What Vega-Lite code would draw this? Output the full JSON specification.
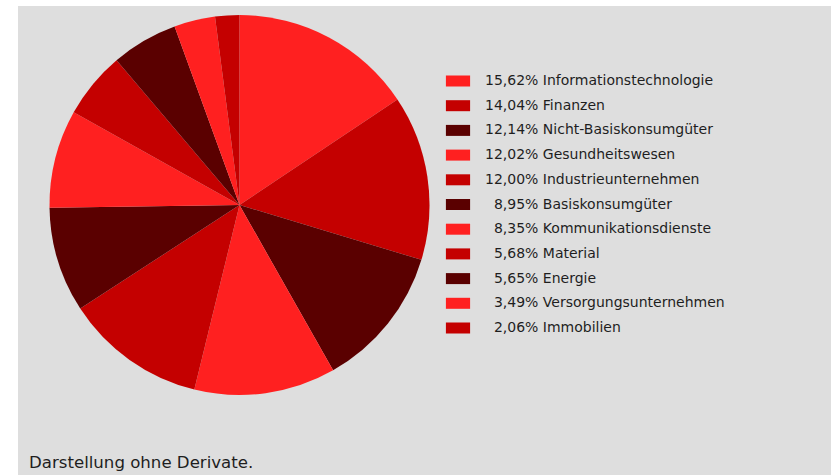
{
  "$schema": "https://vega.github.io/schema/vega-lite/v6.json",
  "background": "#dedede",
  "padding": 0,
  "config": {
    "view": {"stroke": null},
    "font": "DejaVu Sans"
  },
  "spacing": 0,
  "bounds": "flush",
  "resolve": {"scale": {"color": "independent"}, "legend": {"color": "independent"}},
  "hconcat": [
    {
      "width": 18,
      "height": 475,
      "view": {"fill": "white", "stroke": null},
      "data": {"values": []},
      "mark": "point",
      "encoding": {}
    },
    {
      "spacing": 0,
      "bounds": "flush",
      "resolve": {"scale": {"color": "independent"}, "legend": {"color": "independent"}},
      "vconcat": [
        {
          "width": 813,
          "height": 6,
          "view": {"fill": "white", "stroke": null},
          "data": {"values": []},
          "mark": "point",
          "encoding": {}
        },
        {
          "width": 443,
          "height": 398,
          "view": {"fill": null, "stroke": null},
          "title": {
            "text": "Darstellung ohne Derivate.",
            "orient": "bottom",
            "anchor": "start",
            "frame": "group",
            "baseline": "alphabetic",
            "offset": 64,
            "dx": 11,
            "fontSize": 16.6,
            "fontWeight": "normal",
            "font": "DejaVu Sans",
            "color": "#1e1e1e"
          },
          "data": {
            "values": [
              {"sector": "Informationstechnologie", "pct": 15.62, "label": "15,62% Informationstechnologie"},
              {"sector": "Finanzen", "pct": 14.04, "label": "14,04% Finanzen"},
              {"sector": "Nicht-Basiskonsumgüter", "pct": 12.14, "label": "12,14% Nicht-Basiskonsumgüter"},
              {"sector": "Gesundheitswesen", "pct": 12.02, "label": "12,02% Gesundheitswesen"},
              {"sector": "Industrieunternehmen", "pct": 12.00, "label": "12,00% Industrieunternehmen"},
              {"sector": "Basiskonsumgüter", "pct": 8.95, "label": "8,95% Basiskonsumgüter"},
              {"sector": "Kommunikationsdienste", "pct": 8.35, "label": "8,35% Kommunikationsdienste"},
              {"sector": "Material", "pct": 5.68, "label": "5,68% Material"},
              {"sector": "Energie", "pct": 5.65, "label": "5,65% Energie"},
              {"sector": "Versorgungsunternehmen", "pct": 3.49, "label": "3,49% Versorgungsunternehmen"},
              {"sector": "Immobilien", "pct": 2.06, "label": "2,06% Immobilien"}
            ]
          },
          "mark": {"type": "arc", "radius": 190, "strokeWidth": 0},
          "encoding": {
            "theta": {"field": "pct", "type": "quantitative", "stack": true},
            "order": {"field": "pct", "type": "quantitative", "sort": "descending"},
            "color": {
              "field": "label",
              "type": "nominal",
              "sort": null,
              "scale": {
                "range": ["#ff2020", "#c40000", "#5a0000", "#ff2020", "#c40000", "#5a0000", "#ff2020", "#c40000", "#5a0000", "#ff2020", "#c40000"]
              },
              "legend": {
                "title": null,
                "orient": "none",
                "legendX": 429,
                "legendY": 64,
                "symbolType": "M-1.1,-0.5H1.1V0.5H-1.1Z",
                "symbolSize": 484,
                "symbolStrokeWidth": 0,
                "symbolOpacity": 1,
                "labelFont": "DejaVu Sans",
                "labelFontSize": 14,
                "labelColor": "#1e1e1e",
                "labelOffset": 16,
                "labelLimit": 400,
                "rowPadding": 6.7,
                "padding": 0,
                "labelExpr": "substring(datum.label, 1, 2) == ',' ? '\u200b\u2007' + datum.label : datum.label"
              }
            }
          }
        }
      ]
    }
  ]
}
